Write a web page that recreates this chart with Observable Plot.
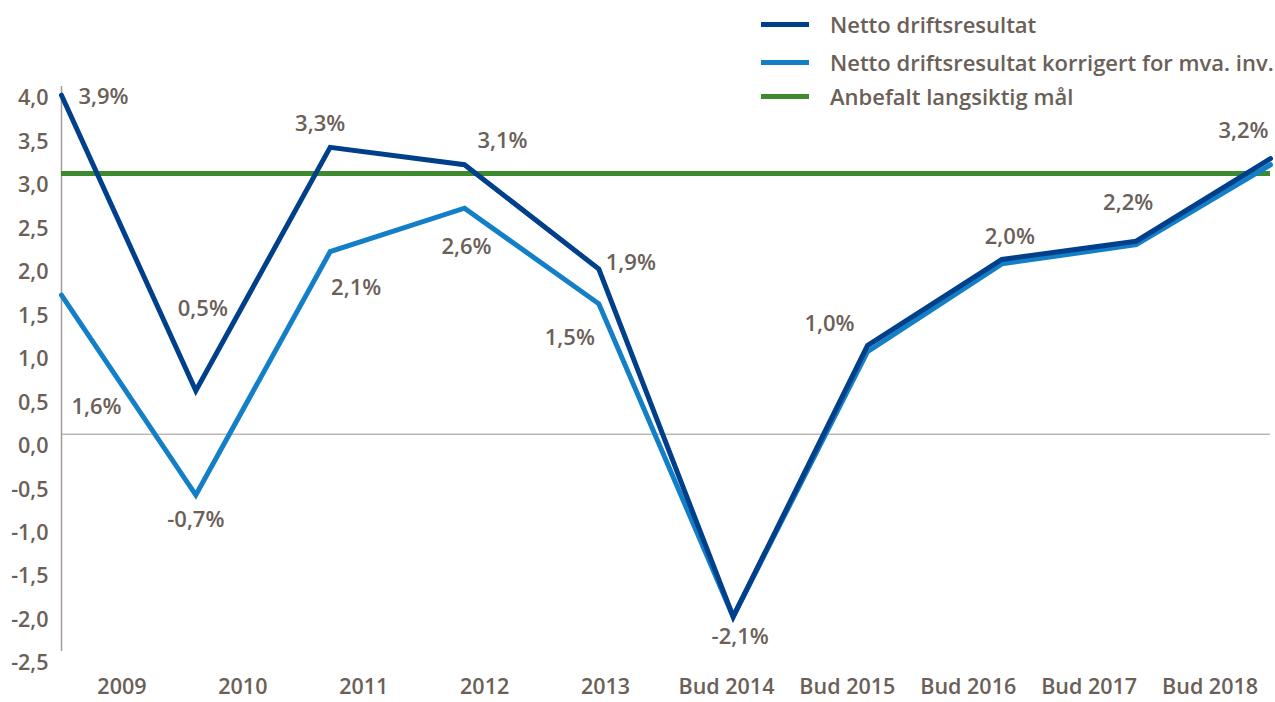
<!DOCTYPE html>
<html>
<head>
<meta charset="utf-8">
<script src="https://cdn.jsdelivr.net/npm/d3@7"></script>
<script src="https://cdn.jsdelivr.net/npm/@observablehq/plot@0.6"></script>
<style>
  html, body { margin: 0; padding: 0; background: #fff; }
  #wrap { position: relative; width: 1275px; height: 702px; font-family: "Open Sans", sans-serif; }
  #legend { position: absolute; left: 761px; top: 0; font-size: 22px; font-weight: 600; color: #6b6058; }
  .row { position: absolute; left: 0; height: 0; white-space: nowrap; }
  .sw { position: absolute; left: 0; width: 48px; height: 5px; top: -2.5px; }
  .lb { position: absolute; left: 69px; top: 0; transform: translateY(-50%); line-height: 1; }
</style>
</head>
<body>
<div id="wrap"><div id="legend"></div></div>
<script>
// ---- data ----
const years = ["2009", "2010", "2011", "2012", "2013", "Bud 2014", "Bud 2015", "Bud 2016", "Bud 2017", "Bud 2018"];
const netto = [3.9, 0.5, 3.3, 3.1, 1.9, -2.1, 1.02, 2.01, 2.22, 3.17];
const korrigert = [1.6, -0.7, 2.1, 2.6, 1.5, -2.1, 0.95, 1.96, 2.18, 3.1];
const target = 3.0;
const nettoLabels = ["3,9%", "0,5%", "3,3%", "3,1%", "1,9%", "-2,1%", "1,0%", "2,0%", "2,2%", "3,2%"];
const korrLabels = ["1,6%", "-0,7%", "2,1%", "2,6%", "1,5%"];
const yTicks = [-2.5, -2, -1.5, -1, -0.5, 0, 0.5, 1, 1.5, 2, 2.5, 3, 3.5, 4];
const seriesNames = ["Netto driftsresultat", "Netto driftsresultat korrigert for mva. inv.", "Anbefalt langsiktig mål"];

// ---- styling / placement ----
const colors = ["#003f8a", "#127fc7", "#3d8b2c"];
const textColor = "#6b6058";
const nettoOffsets = [[42, 2], [7, -82], [-10, -23], [38, -24], [32, -6], [7, 20], [-38, -22], [8, -23], [-8, -38], [-27, -28]];
const korrOffsets = [[35, 112], [0, 25], [26, 36], [2, 39], [-29, 34]];

const nettoData = years.map((y, i) => ({i, v: netto[i]}));
const korrData = years.map((y, i) => ({i, v: korrigert[i]}));

const labelMarks = [
  ...nettoLabels.map((t, i) => Plot.text([{i, v: netto[i], t}], {x: "i", y: "v", text: "t", dx: nettoOffsets[i][0], dy: nettoOffsets[i][1], fill: textColor, fontSize: 22})),
  ...korrLabels.map((t, i) => Plot.text([{i, v: korrigert[i], t}], {x: "i", y: "v", text: "t", dx: korrOffsets[i][0], dy: korrOffsets[i][1], fill: textColor, fontSize: 22}))
];

const chart = Plot.plot({
  width: 1275,
  height: 702,
  marginLeft: 61,
  marginRight: 5,
  marginTop: 86,
  marginBottom: 51,
  style: {fontFamily: "'Open Sans', sans-serif", fontSize: "21px", fontWeight: 600, color: textColor, background: "transparent"},
  x: {domain: [0, 9]},
  y: {domain: [-2.5, 4]},
  marks: [
    Plot.axisY({ticks: yTicks, tickSize: 0, tickPadding: 13, dy: 12, tickFormat: d => d.toFixed(1).replace(".", ","), label: null, fill: textColor, fontSize: 21.5}),
    Plot.axisX({ticks: years.map((y, i) => (i + 0.5) * 0.9), tickSize: 0, tickPadding: 27, tickFormat: (d) => years[Math.round(d / 0.9 - 0.5)], label: null, fill: textColor, fontSize: 21.5}),
    Plot.ruleY([0], {stroke: "#9e958e", strokeWidth: 1}),
    Plot.ruleX([0], {y1: -2.5, y2: 4, stroke: "#a39b94", strokeWidth: 1.5}),
    Plot.ruleY([target], {stroke: colors[2], strokeWidth: 5}),
    Plot.line(korrData, {x: "i", y: "v", stroke: colors[1], strokeWidth: 5, strokeLinejoin: "miter", strokeMiterlimit: 10}),
    Plot.line(nettoData, {x: "i", y: "v", stroke: colors[0], strokeWidth: 5, strokeLinejoin: "miter", strokeMiterlimit: 10}),
    ...labelMarks
  ]
});
document.getElementById("wrap").appendChild(chart);

// legend
const legendRows = [24, 62, 96];
const legend = d3.select("#legend");
seriesNames.forEach((name, i) => {
  const row = legend.append("div").attr("class", "row").style("top", legendRows[i] + "px");
  row.append("div").attr("class", "sw").style("background", colors[i]);
  row.append("div").attr("class", "lb").text(name);
});
</script>
</body>
</html>
